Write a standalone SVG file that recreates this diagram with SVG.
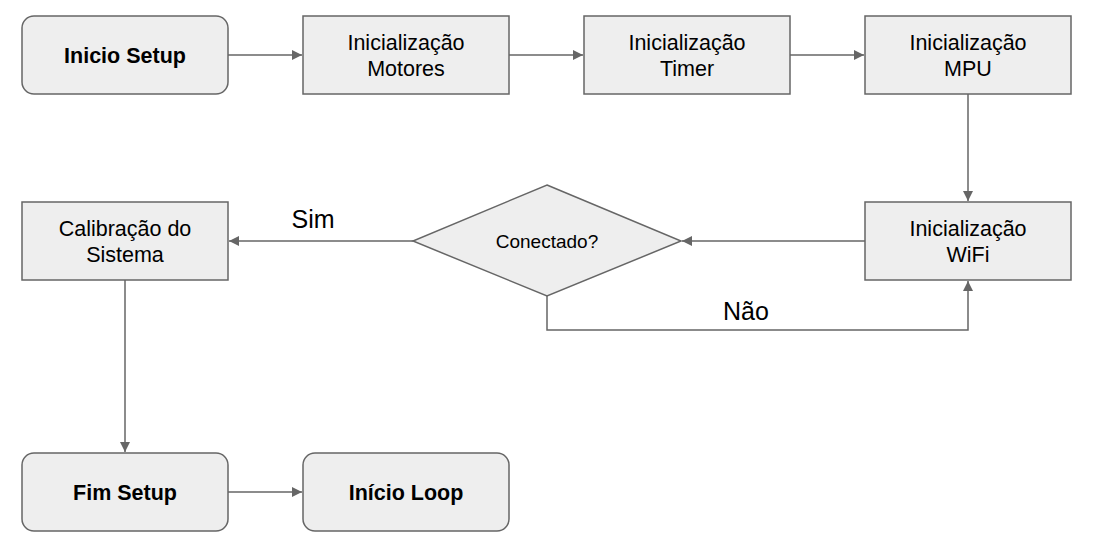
<svg xmlns="http://www.w3.org/2000/svg" width="1094" height="550" viewBox="0 0 1094 550">
<defs>
<style>
.n{fill:#eeeeee;stroke:#666666;stroke-width:1.5}
.t{font-family:"Liberation Sans",Arial,sans-serif;font-size:21.5px;fill:#000;text-anchor:middle}
.b{font-weight:bold}
.c{fill:none;stroke:#666666;stroke-width:1.5}
.l{font-family:"Liberation Sans",Arial,sans-serif;font-size:25px;fill:#000;text-anchor:middle}
</style>
<marker id="ah" viewBox="0 0 10 10" refX="10" refY="5" markerWidth="10" markerHeight="10" markerUnits="userSpaceOnUse" orient="auto">
<path d="M0,0 L10,5 L0,10 z" fill="#666666"/>
</marker>
</defs>
<rect width="1094" height="550" fill="#ffffff"/>
<g id="connectors">
<path class="c" d="M228,55 H302" marker-end="url(#ah)"/>
<path class="c" d="M509,55 H583" marker-end="url(#ah)"/>
<path class="c" d="M790,55 H864" marker-end="url(#ah)"/>
<path class="c" d="M968,94 V201" marker-end="url(#ah)"/>
<path class="c" d="M865,241 H682" marker-end="url(#ah)"/>
<path class="c" d="M413,241 H229" marker-end="url(#ah)"/>
<path class="c" d="M547,296 V330 H968 V281" marker-end="url(#ah)"/>
<path class="c" d="M125,280 V452" marker-end="url(#ah)"/>
<path class="c" d="M228,492 H302" marker-end="url(#ah)"/>
<text class="l" x="313" y="228">Sim</text>
<text class="l" x="746" y="320">Não</text>
</g>
<g id="inicio-setup">
<rect class="n" x="22" y="16" width="206" height="78" rx="12"/>
<text class="t b" x="125" y="63">Inicio Setup</text>
</g>
<g id="init-motores">
<rect class="n" x="303" y="16" width="206" height="78"/>
<text class="t" x="406" y="50">Inicialização</text>
<text class="t" x="406" y="76">Motores</text>
</g>
<g id="init-timer">
<rect class="n" x="584" y="16" width="206" height="78"/>
<text class="t" x="687" y="50">Inicialização</text>
<text class="t" x="687" y="76">Timer</text>
</g>
<g id="init-mpu">
<rect class="n" x="865" y="16" width="206" height="78"/>
<text class="t" x="968" y="50">Inicialização</text>
<text class="t" x="968" y="76">MPU</text>
</g>
<g id="init-wifi">
<rect class="n" x="865" y="202" width="206" height="78"/>
<text class="t" x="968" y="236">Inicialização</text>
<text class="t" x="968" y="262">WiFi</text>
</g>
<g id="conectado">
<polygon class="n" points="547,185 681,241 547,296 413,241"/>
<text class="t" x="547" y="248" style="font-size:19px">Conectado?</text>
</g>
<g id="calibracao">
<rect class="n" x="22" y="202" width="206" height="78"/>
<text class="t" x="125" y="236">Calibração do</text>
<text class="t" x="125" y="262">Sistema</text>
</g>
<g id="fim-setup">
<rect class="n" x="22" y="453" width="206" height="78" rx="12"/>
<text class="t b" x="125" y="500">Fim Setup</text>
</g>
<g id="inicio-loop">
<rect class="n" x="303" y="453" width="206" height="78" rx="12"/>
<text class="t b" x="406" y="500">Início Loop</text>
</g>
</svg>
